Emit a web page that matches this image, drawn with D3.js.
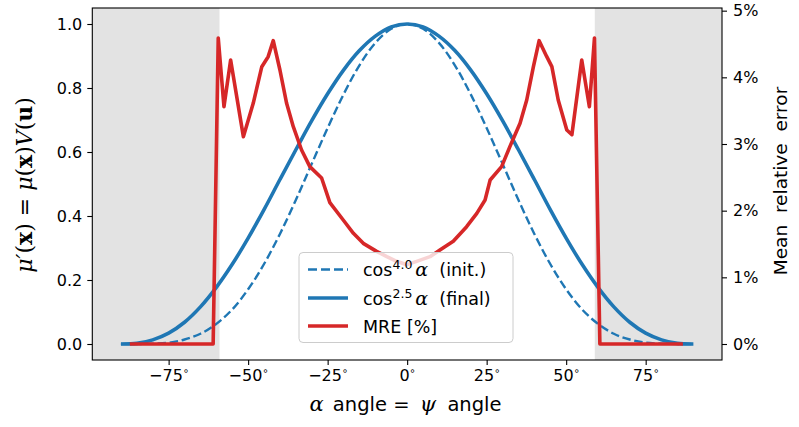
<!DOCTYPE html>
<html><head><meta charset="utf-8">
<script src="https://cdn.jsdelivr.net/npm/d3@7/dist/d3.min.js"></script>
<style>
body{margin:0;background:#fff;}
</style></head>
<body><svg id="c" width="799" height="427" font-family="DejaVu Sans"></svg>
<script>
// ---- data ----
const curveAngles = [-90,-85,-80,-75,-70,-65,-60,-55,-50,-45,-40,-35,-30,-25,-20,-15,-10,-5,0,5,10,15,20,25,30,35,40,45,50,55,60,65,70,75,80,85,90];
const finalValues = [0,0.002,0.013,0.034,0.068,0.116,0.177,0.249,0.331,0.420,0.514,0.607,0.698,0.782,0.856,0.917,0.962,0.991,1.0,0.991,0.962,0.917,0.856,0.782,0.698,0.607,0.514,0.420,0.331,0.249,0.177,0.116,0.068,0.034,0.013,0.002,0];
const initValues  = [0,0.000,0.001,0.004,0.014,0.032,0.063,0.108,0.171,0.250,0.344,0.450,0.563,0.675,0.780,0.871,0.941,0.985,1.0,0.985,0.941,0.871,0.780,0.675,0.563,0.450,0.344,0.250,0.171,0.108,0.063,0.032,0.014,0.004,0.001,0.000,0];
const mreAngles = [-87.2,-61.0,-59.4,-57.6,-55.5,-51.5,-48.4,-45.7,-43.7,-42.1,-40.0,-37.9,-35.8,-33.2,-30.6,-26.9,-24.3,-20.1,-16.9,-13.8,-9.6,-6.4,-3.3,-0.1,3.0,7.2,10.3,14.5,18.7,21.9,24.5,26.1,29.7,32.3,35.5,37.6,39.7,41.5,43.9,45.5,47.5,50.2,51.8,54.9,57.3,58.9,60.6,86.7];
const mreValues = [0,0,4.59,3.56,4.26,3.11,3.61,4.16,4.31,4.55,4.11,3.61,3.26,2.91,2.66,2.49,2.12,1.86,1.66,1.51,1.39,1.31,1.24,1.19,1.24,1.31,1.41,1.54,1.76,1.96,2.16,2.46,2.66,2.96,3.31,3.66,4.16,4.55,4.31,4.16,3.66,3.21,3.14,4.26,3.56,4.59,0,0];
const shadedRanges = [[-99,-59],[59,99]];
const xTicks = [-75,-50,-25,0,25,50,75];
const yTicks = [0,0.2,0.4,0.6,0.8,1.0];
const rTicks = [0,1,2,3,4,5];

const blue = "#1f77b4", red = "#d62728";
const L = 92.3, R = 722, T = 8, B = 360;
const SERIF = "'DejaVu Serif', 'Liberation Serif', serif";
const svg = d3.select("#c");
const x = d3.scaleLinear().domain([-99,99]).range([L,R]);
const yL = d3.scaleLinear().domain([-0.05,1.05]).range([B,T]);
const yR = d3.scaleLinear().domain([-0.24,5.04]).range([B,T]);

// shaded
svg.selectAll("rect.sh").data(shadedRanges).join("rect").attr("class","sh")
  .attr("x",d=>x(d[0])).attr("width",d=>x(d[1])-x(d[0]))
  .attr("y",T).attr("height",B-T).attr("fill","#e3e3e3");

const lineL = d3.line().x(d=>x(d[0])).y(d=>yL(d[1])).curve(d3.curveCatmullRom);
svg.append("path").datum(curveAngles.map((a,i)=>[a,initValues[i]]))
  .attr("d",lineL).attr("fill","none").attr("stroke",blue).attr("stroke-width",2.4)
  .attr("stroke-dasharray","8.5,3.7");
svg.append("path").datum(curveAngles.map((a,i)=>[a,finalValues[i]]))
  .attr("d",lineL).attr("fill","none").attr("stroke",blue).attr("stroke-width",3.6);
const lineR = d3.line().x(d=>x(d[0])).y(d=>yR(d[1]));
svg.append("path").datum(mreAngles.map((a,i)=>[a,mreValues[i]]))
  .attr("d",lineR).attr("fill","none").attr("stroke",red).attr("stroke-width",3.6)
  .attr("stroke-linejoin","round");

// axes
const fs = 16;
const gx = svg.append("g").attr("transform",`translate(0,${B})`)
  .call(d3.axisBottom(x).tickValues(xTicks).tickSize(5).tickPadding(5).tickFormat(d=>(d<0?"\u2212":"")+Math.abs(d)));
gx.selectAll("text").each(function(){
  d3.select(this).append("tspan").attr("font-size",10).attr("dy",-7).text("\u2218");
});
const gy = svg.append("g").attr("transform",`translate(${L},0)`)
  .call(d3.axisLeft(yL).tickValues(yTicks).tickSize(5).tickPadding(5).tickFormat(d3.format(".1f")));
const gr = svg.append("g").attr("transform",`translate(${R},0)`)
  .call(d3.axisRight(yR).tickValues(rTicks).tickSize(5).tickPadding(6).tickFormat(d=>d+"%"));
[gx,gy,gr].forEach(g=>{
  g.select(".domain").remove();
  g.attr("font-family","DejaVu Sans");
  g.selectAll("text").attr("font-size",fs).attr("fill","#000");
  g.selectAll("line").attr("stroke","#000").attr("stroke-width",1.1);
});
svg.append("rect").attr("x",L).attr("y",T).attr("width",R-L).attr("height",B-T)
  .attr("fill","none").attr("stroke","#000").attr("stroke-width",1.1);

// x label
const xl = svg.append("text").attr("x",405.5).attr("y",411).attr("text-anchor","middle")
  .attr("font-size",19.5).style("font-family","DejaVu Sans").style("white-space","pre");
xl.append("tspan").style("font-family",SERIF).style("font-style","italic").attr("font-size",21).text("\u03b1");
xl.append("tspan").attr("dx",3).text(" angle = ");
xl.append("tspan").style("font-family",SERIF).style("font-style","italic").attr("font-size",21).attr("dx",4).text("\u03c8");
xl.append("tspan").attr("dx",5).text(" angle");

// y label left
const yl = svg.append("text").attr("transform","translate(32,185) rotate(-90)").attr("text-anchor","middle")
  .style("font-family",SERIF).attr("font-size",22).style("white-space","pre");
const it = s=>yl.append("tspan").style("font-style","italic").text(s);
const up = s=>yl.append("tspan").text(s);
const bf = s=>yl.append("tspan").style("font-weight","bold").text(s);
it("\u03bc\u2032"); up("("); bf("x"); up(") = "); it("\u03bc"); up("("); bf("x"); up(")"); it("V"); up("("); bf("u"); up(")");

// y label right
svg.append("text").attr("transform","translate(781,181) rotate(-90)").attr("text-anchor","middle")
  .attr("font-size",18.5).style("font-family","DejaVu Sans").style("white-space","pre").attr("dy","0.35em").text("Mean  relative  error");

// legend
const lg = svg.append("g");
lg.append("rect").attr("x",299).attr("y",252.5).attr("width",214).attr("height",90).attr("rx",4)
  .attr("fill","#fff").attr("fill-opacity",0.8).attr("stroke","#cccccc").attr("stroke-width",1);
const rows = [
  {y:269.5, dash:"9,4", w:2.4, c:blue, sup:"4.0", tail:"  (init.)"},
  {y:298, dash:null, w:3.6, c:blue, sup:"2.5", tail:"  (final)"},
  {y:326, dash:null, w:3.6, c:red, label:"MRE [%]"}
];
rows.forEach(r=>{
  lg.append("line").attr("x1",308).attr("x2",348).attr("y1",r.y).attr("y2",r.y)
    .attr("stroke",r.c).attr("stroke-width",r.w).attr("stroke-dasharray",r.dash);
  const t = lg.append("text").attr("x",363).attr("y",r.y+6.5).attr("font-size",17.5)
    .style("font-family","DejaVu Sans").style("white-space","pre");
  if(r.label){ t.text(r.label); return; }
  t.append("tspan").text("cos");
  t.append("tspan").attr("font-size",12.5).attr("dy",-7).text(r.sup);
  t.append("tspan").style("font-family",SERIF).style("font-style","italic").attr("font-size",19).attr("dy",7).attr("dx",3).text("\u03b1");
  t.append("tspan").text(r.tail);
});
</script></body></html>
